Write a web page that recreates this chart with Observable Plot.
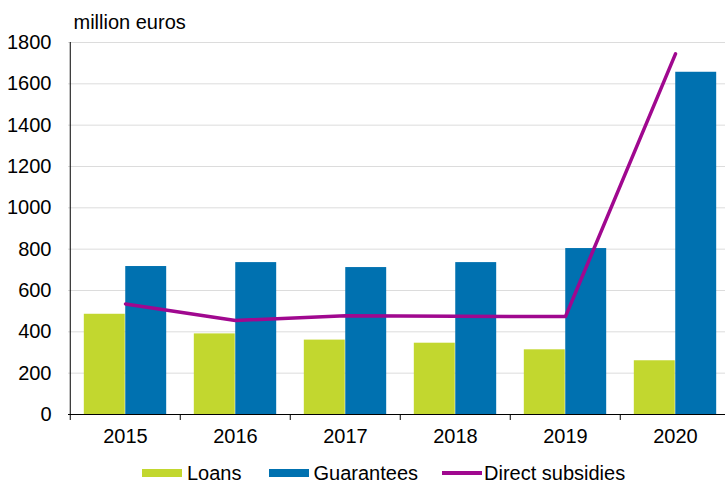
<!DOCTYPE html>
<html>
<head>
<meta charset="utf-8">
<script src="https://cdn.jsdelivr.net/npm/d3@7"></script>
<script src="https://cdn.jsdelivr.net/npm/@observablehq/plot@0.6"></script>
<style>
  body { margin: 0; background: #fff; font-family: "Liberation Sans", Arial, sans-serif; overflow: hidden; }
  #legend { display: flex; align-items: center; margin-left: 142px; margin-top: 6px; height: 30px; font-size: 20px; color: #000; }
  .item { display: flex; align-items: center; }
  .sw { width: 40px; height: 8px; margin-right: 5px; }
  .ln { width: 40px; height: 3.5px; margin-right: 2px; }
</style>
</head>
<body>
<div id="chart"></div>
<div id="legend"></div>
<script>
const years = ["2015", "2016", "2017", "2018", "2019", "2020"];
const loans = [485, 390, 360, 345, 313, 260];
const guarantees = [716, 735, 711, 735, 803, 1656];
const subsidies = [535, 455, 478, 475, 474, 1745];
const yTicks = [0, 200, 400, 600, 800, 1000, 1200, 1400, 1600, 1800];
const seriesNames = ["Loans", "Guarantees", "Direct subsidies"];
const colors = ["#c2d72f", "#0071b0", "#a0088f"];

const rows = years.map((year, i) => ({year, loans: loans[i], guarantees: guarantees[i], subsidies: subsidies[i]}));

const W = 725, ML = 68, MR = -6;
const bw = (W - ML - MR) / years.length;
const outer = bw * 0.125;
const half = bw / 2;

const chart = Plot.plot({
  width: W,
  height: 452,
  marginLeft: ML,
  marginRight: MR,
  marginTop: 42,
  marginBottom: 38,
  style: {fontFamily: "'Liberation Sans', Arial, sans-serif", fontSize: "20px", color: "#000", background: "#fff"},
  x: {domain: years, padding: 0, label: null},
  y: {domain: [0, 1800], label: null},
  marks: [
    Plot.gridY({ticks: yTicks.slice(1), stroke: "#dcdcdc", strokeOpacity: 1}),
    Plot.barY(rows, {x: "year", y: "loans", fill: colors[0], insetLeft: outer, insetRight: half}),
    Plot.barY(rows, {x: "year", y: "guarantees", fill: colors[1], insetLeft: half, insetRight: outer}),
    Plot.line(rows, {x: "year", y: "subsidies", stroke: colors[2], strokeWidth: 3.5}),
    Plot.ruleX([years[0]], {dx: -half, y1: 0, y2: 1800, stroke: "#000"}),
    Plot.ruleY([0], {stroke: "#000"}),
    Plot.axisY({ticks: yTicks, tickSize: 0, tickPadding: 17, tickFormat: d => String(d), label: null}),
    Plot.axisX({tickSize: 6, dx: -half, tickFormat: () => "", label: null}),
    Plot.axisX({tickSize: 0, tickPadding: 14, label: null}),
    Plot.text(["million euros"], {frameAnchor: "top-left", lineAnchor: "middle", dy: -20, dx: 5, textAnchor: "start"})
  ]
});
document.getElementById("chart").appendChild(chart);

const legend = document.getElementById("legend");
const gaps = [27, 24, 0];
seriesNames.forEach((name, i) => {
  const item = document.createElement("div");
  item.className = "item";
  item.style.marginRight = gaps[i] + "px";
  const sw = document.createElement("div");
  sw.className = i === 2 ? "ln" : "sw";
  sw.style.background = colors[i];
  const t = document.createElement("span");
  t.textContent = name;
  item.appendChild(sw);
  item.appendChild(t);
  legend.appendChild(item);
});
</script>
</body>
</html>
